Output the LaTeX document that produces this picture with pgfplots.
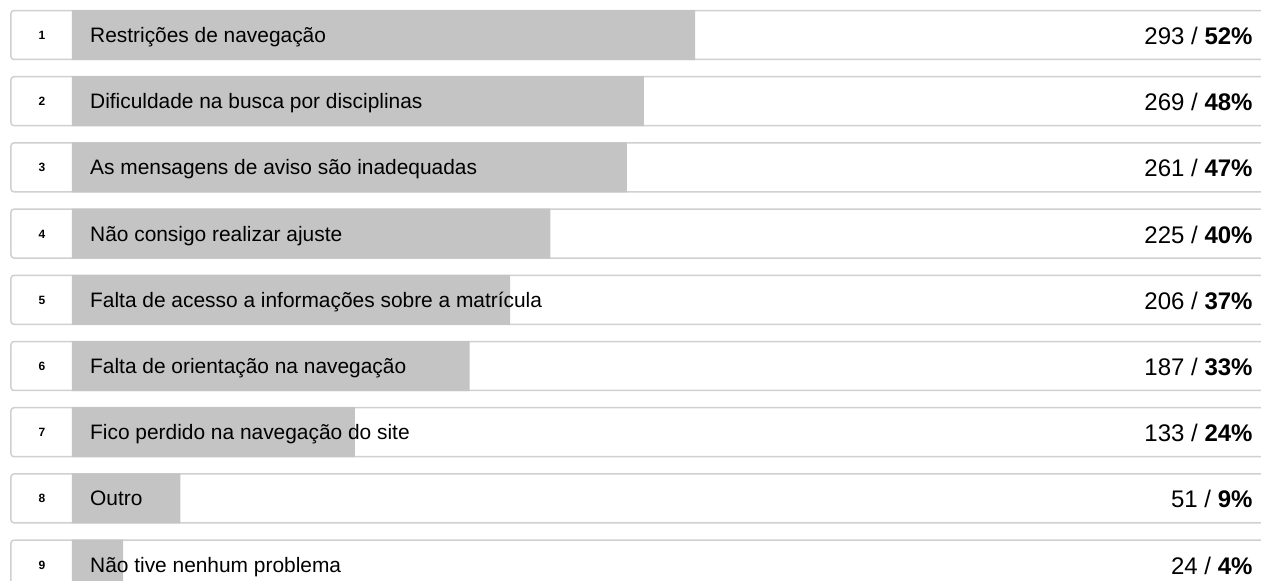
\documentclass[border=0pt]{standalone}
\usepackage{pgfplots}
\usepackage{pgfplotstable}
\pgfplotsset{compat=1.18}
\usepackage{fontspec}
\setmainfont{Liberation Sans}

\definecolor{barc}{RGB}{196,196,196}
\definecolor{boxc}{RGB}{208,208,208}

% rows: k = position, v = answers, pct = share
\pgfplotstableread{
k v pct label
1 293 52 {Restrições de navegação}
2 269 48 {Dificuldade na busca por disciplinas}
3 261 47 {As mensagens de aviso são inadequadas}
4 225 40 {Não consigo realizar ajuste}
5 206 37 {Falta de acesso a informações sobre a matrícula}
6 187 33 {Falta de orientação na navegação}
7 133 24 {Fico perdido na navegação do site}
8 51 9 {Outro}
9 24 4 {Não tive nenhum problema}
}\data

\begin{document}
\begin{tikzpicture}
\begin{axis}[
  scale only axis,
  width=1261pt, height=581pt,
  xmin=-33.86, xmax=559.19,
  ymin=0.4713, ymax=9.2477,
  y dir=reverse,
  hide axis,
  clip=true,
]
\coordinate (BL) at (rel axis cs:0,0);
\coordinate (TR) at (rel axis cs:1,1);
% row frames
\pgfplotsinvokeforeach{1,...,9}{
  \draw[boxc, line width=1.5pt, fill=white, rounded corners=3pt]
    (axis cs:-28.69,#1-0.370) rectangle (axis cs:590,#1+0.370);
}

% bars
\addplot[xbar, bar width=50pt, fill=barc, draw=none]
  table[x=v, y=k]{\data};

% row numbers
\addplot[draw=none, mark=none, nodes near coords, point meta=explicit symbolic,
  nodes near coords style={font=\bfseries\fontsize{12}{14}\selectfont,
    anchor=base, yshift=-4.5pt, inner sep=0pt}]
  table[x expr=-14.1, y=k, meta=k]{\data};

% category names
\addplot[draw=none, mark=none, nodes near coords, point meta=explicit symbolic,
  nodes near coords style={font=\fontsize{20.9}{24}\selectfont,
    anchor=base west, yshift=-7.5pt, inner sep=0pt}]
  table[x expr=8.46, y=k, meta=label]{\data};

% counts and shares
\addplot[draw=none, mark=none, point meta=explicit symbolic,
  visualization depends on={\thisrow{pct} \as \pct},
  nodes near coords={\pgfplotspointmeta\ / \textbf{\pgfmathprintnumber[fixed,precision=0,assume math mode=true]{\pct}\%}},
  nodes near coords style={font=\fontsize{24}{28}\selectfont,
    anchor=base east, yshift=-9.5pt, inner sep=0pt}]
  table[x expr=555.3, y=k, meta=v]{\data};
\end{axis}
\pgfresetboundingbox
\path[use as bounding box] (BL) rectangle (TR);
\end{tikzpicture}
\end{document}
